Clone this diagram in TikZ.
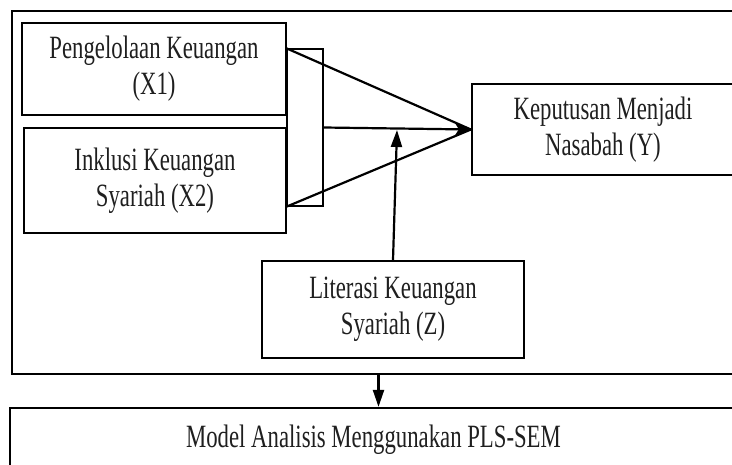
\documentclass[tikz,border=0pt]{standalone}
\usepackage{fontspec}
\setmainfont{Liberation Serif}[FakeStretch=0.70]
\usetikzlibrary{arrows.meta}
\begin{document}
\begin{tikzpicture}[x=1pt,y=-1pt,
  box/.style={draw=black,line width=2.2pt,inner sep=0pt,align=center,
    font=\fontsize{32.5}{36}\selectfont,text=black!88},
  thinbox/.style={draw=black,line width=1.6pt,inner sep=0pt},
  conn/.style={draw=black,line width=2.2pt},
  tipS/.style={-{Stealth[length=17pt,width=16pt,inset=5pt]}},
  tipT/.style={-{Triangle[length=17pt,width=11pt]}}
]
\useasboundingbox (0,0) rectangle (732,465);
\clip (0,0) rectangle (732,465);
\node[box,minimum width=733pt,minimum height=363pt] (outer) at (378.5,192.5) {};
\node[box,minimum width=264pt,minimum height=92pt] (x1) at (154,69) {Pengelolaan Keuangan\\(X1)};
\node[box,minimum width=262pt,minimum height=105pt] (x2) at (155,180.5) {Inklusi Keuangan\\Syariah (X2)};
\node[thinbox,minimum width=36pt,minimum height=157pt] (br) at (305,127.5) {};
\node[box,minimum width=262pt,minimum height=91pt] (y) at (603,129.5) {Keputusan Menjadi\\Nasabah (Y)};
\node[box,minimum width=262pt,minimum height=97pt] (z) at (393,309.5) {Literasi Keuangan\\Syariah (Z)};
\node[box,minimum width=727pt,minimum height=64pt] (model) at (373.5,440) {Model Analisis Menggunakan PLS-SEM};
\coordinate (zt) at (397,130);
\draw[conn] (br.north west) -- (y.west);
\draw[conn] (br.south west) -- (y.west);
\draw[conn,tipS] (br.east) -- (y.west);
\draw[conn,tipT] (z.north) -- (zt);
\draw[conn,tipT] (outer.south) -- (outer.south |- model.north);
\end{tikzpicture}
\end{document}
